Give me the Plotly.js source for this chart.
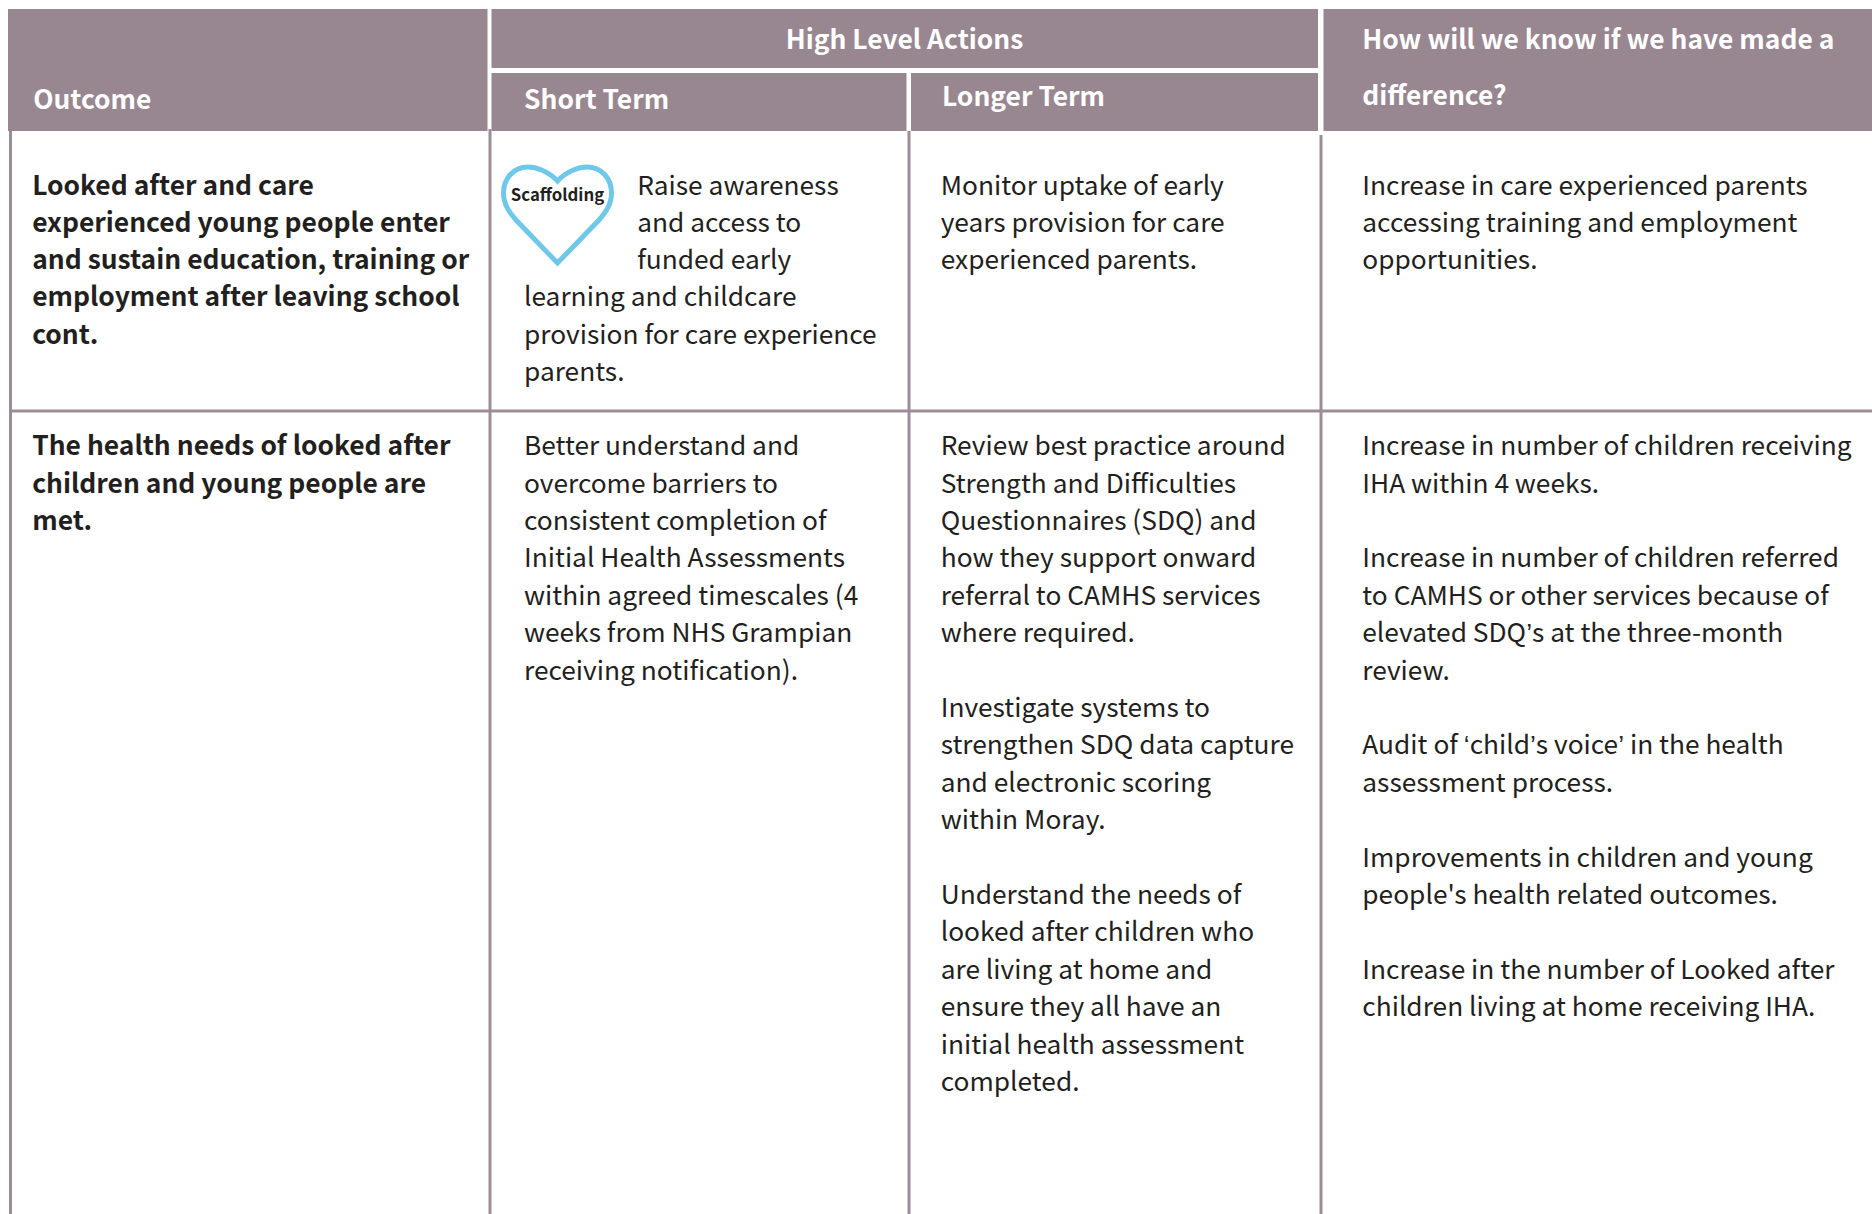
<!DOCTYPE html>
<html><head><meta charset="utf-8">
<script src="https://cdn.plot.ly/plotly-3.0.1.min.js"></script>
<style>html,body{margin:0;padding:0;background:#fff;overflow:hidden}#c{width:1872px;height:1214px}</style>
</head><body><div id="c"></div>
<script>
// ---- table content ----
const headOutcome = ["Outcome"];
const headActions = ["High Level Actions"];
const headShort = ["Short Term"];
const headLonger = ["Longer Term"];
const headKnow = ["How will we know if we have made a", "difference?"];
const badge = ["Scaffolding"];

const outcome1 = ["Looked after and care","experienced young people enter","and sustain education, training or","employment after leaving school","cont."];
const shortWrapped1 = ["Raise awareness","and access to","funded early"];
const shortRest1 = ["learning and childcare","provision for care experience","parents."];
const longer1 = ["Monitor uptake of early","years provision for care","experienced parents."];
const know1 = ["Increase in care experienced parents","accessing training and employment","opportunities."];

const outcome2 = ["The health needs of looked after","children and young people are","met."];
const short2 = ["Better understand and","overcome barriers to","consistent completion of","Initial Health Assessments","within agreed timescales (4","weeks from NHS Grampian","receiving notification)."];
const longer2 = ["Review best practice around","Strength and Difficulties","Questionnaires (SDQ) and","how they support onward","referral to CAMHS services","where required.","",
"Investigate systems to","strengthen SDQ data capture","and electronic scoring","within Moray.","",
"Understand the needs of","looked after children who","are living at home and","ensure they all have an","initial health assessment","completed."];
const know2 = ["Increase in number of children receiving","IHA within 4 weeks.","",
"Increase in number of children referred","to CAMHS or other services because of","elevated SDQ’s at the three-month","review.","",
"Audit of ‘child’s voice’ in the health","assessment process.","",
"Improvements in children and young","people's health related outcomes.","",
"Increase in the number of Looked after","children living at home receiving IHA."];

// ---- layout constants ----
const FONT = '"Noto Sans CJK SC","Source Sans Pro","Noto Sans",sans-serif';
const BAND = '#988791', RULE = '#9d8d98', INK = '#231f20', SKY = '#6fc7ea';
const LH = 37.4, LH1 = 37.2, SIZE = 26.3, BOLD = 26.42;
const X1 = 32.2, X2 = 524, X2W = 637.2, X3 = 940.7, X4 = 1362.3;
const Y1 = 188.2, Y2 = 448.7;

// curly quotes are full-width in the CJK face, so take them from a proportional one
const fixQuotes = s => s.replace(/[‘’]/g, m => `<span style="font-family:'Liberation Sans'">${m}</span>`);

function block(lines, x, y, opt) {
  opt = opt || {};
  return {
    type: 'scatter', mode: 'text', hoverinfo: 'skip', showlegend: false, cliponaxis: false,
    x: lines.map(() => x),
    y: lines.map((_, i) => y + i * (opt.lh || LH)),
    text: lines.map(fixQuotes),
    textposition: opt.pos || 'middle right',
    textfont: { family: FONT, size: opt.size || SIZE, color: opt.color || INK, weight: opt.weight || 400 }
  };
}
const W = { color: '#ffffff', weight: 700, size: BOLD };
const data = [
  block(headOutcome, X1 + 1, 102.5, W),
  block(headActions, 904.5, 42, Object.assign({ pos: 'middle center' }, W)),
  block(headShort, X2, 102.5, W),
  block(headLonger, 942, 99.5, W),
  block(headKnow, X4, 42, Object.assign({ lh: 56 }, W)),
  block(outcome1, X1, Y1, { weight: 700, lh: LH1, size: BOLD }),
  block(shortWrapped1, X2W, Y1, { lh: LH1 }),
  block(shortRest1, X2, Y1 + 3 * LH1, { lh: LH1 }),
  block(longer1, X3, Y1, { lh: LH1 }),
  block(know1, X4, Y1, { lh: LH1 }),
  block(outcome2, X1, Y2, { weight: 700, size: BOLD }),
  block(short2, X2, Y2),
  block(longer2, X3, Y2),
  block(know2, X4, Y2),
  block(badge, 557.5, 197, { pos: 'middle center', size: 16.8, weight: 700 })
];

function rect(x0, y0, x1, y1) {
  return { type: 'rect', xref: 'x', yref: 'y', x0, y0, x1, y1, fillcolor: BAND, line: { width: 0 }, layer: 'below' };
}
function rule(x0, y0, x1, y1) {
  return { type: 'line', xref: 'x', yref: 'y', x0, y0, x1, y1, line: { color: RULE, width: 3 }, layer: 'below' };
}
const shapes = [
  rect(8, 9, 487.5, 131),
  rect(491.5, 9, 1318, 68),
  rect(491.5, 73, 906.5, 131),
  rect(911, 73, 1318, 131),
  rect(1323.5, 9, 1872, 131),
  rule(10.5, 131, 10.5, 1214),
  rule(490, 129, 490, 1214),
  rule(909, 131, 909, 1214),
  rule(1321, 135, 1321, 1214),
  rule(10, 411, 1872, 411),
  { type: 'path', xref: 'x', yref: 'y', layer: 'above', line: { color: SKY, width: 5 }, fillcolor: 'rgba(0,0,0,0)',
    path: 'M557.5 181 C548 171 536 167 528 167 C513 167 503.5 179 503.5 193 C503.5 205 510 213 516 220 L557.5 263 L599 220 C605 213 611.5 205 611.5 193 C611.5 179 602 167 587 167 C579 167 567 171 557.5 181 Z' }
];

Plotly.newPlot('c', data, {
  width: 1872, height: 1214,
  margin: { l: 0, r: 0, t: 0, b: 0, pad: 0 },
  paper_bgcolor: '#ffffff', plot_bgcolor: '#ffffff',
  showlegend: false,
  xaxis: { range: [0, 1872], visible: false, fixedrange: true },
  yaxis: { range: [1214, 0], visible: false, fixedrange: true },
  shapes
}, { displayModeBar: false, staticPlot: true });
</script></body></html>
